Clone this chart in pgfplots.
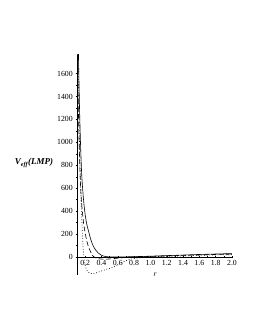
\documentclass[border=0pt]{standalone}
\usepackage{pgfplots}
\pgfplotsset{compat=1.18}
\usepackage{fontspec}
\setmainfont{Liberation Serif}
\begin{document}
\begin{tikzpicture}[x=1pt,y=1pt]
\useasboundingbox[fill=white] (0,0) rectangle (255,330);
\begin{axis}[
  at={(77pt,55pt)}, anchor=south west,
  scale only axis, width=155pt, height=220pt,
  xmin=0.1, xmax=2.0, ymin=-157, ymax=1762,
  axis x line=middle, axis y line=left,
  axis line style={-, line width=0.7pt},
  xtick={0.2,0.4,...,2.0},
  xticklabels={0.2,0.4,0.6,0.8,1.0,1.2,1.4,1.6,1.8,2.0},
  ytick={0,200,...,1600},
  minor x tick num=1, minor y tick num=1,
  tick style={black, line width=0.4pt},
  major tick length=2.5pt, minor tick length=1.5pt,
  tick label style={font=\fontsize{7.8}{9}\selectfont},
  /pgf/number format/assume math mode=true,
  /pgf/number format/1000 sep={},
  xticklabel style={yshift=1pt},
  yticklabel style={xshift=0.5pt},
  clip=true,
]
\addplot[black, line width=0.6pt, smooth] coordinates {
(0.105,2500)(0.11,2150)(0.12,1680)(0.13,1330)(0.14,1060)(0.15,850)(0.16,690)(0.18,500)(0.20,370)(0.22,285)(0.24,230)(0.27,150)(0.30,95)(0.33,60)(0.36,35)(0.40,15)(0.45,4)(0.5,0)(0.6,0)(0.8,3)(1.0,7)(1.2,12)(1.4,17)(1.6,22)(1.8,26)(2.0,30)};
\addplot[black, line width=0.6pt, dash pattern=on 5pt off 2.5pt, smooth] coordinates {
(0.105,1900)(0.11,1600)(0.12,1180)(0.13,900)(0.14,680)(0.15,540)(0.16,440)(0.18,300)(0.2,210)(0.22,140)(0.24,90)(0.27,40)(0.30,5)(0.33,-8)(0.36,-14)(0.40,-18)(0.45,-19)(0.5,-17)(0.55,-14)(0.6,-10)(0.7,-4)(0.8,0)(1.0,5)(1.2,10)(1.4,14)(1.6,18)(1.8,22)(2.0,25)};
\addplot[black, line width=0.7pt, dotted, smooth] coordinates {
(0.11,2000)(0.12,1500)(0.13,1050)(0.14,720)(0.15,490)(0.16,300)(0.17,150)(0.18,30)(0.19,-30)(0.20,-70)(0.22,-115)(0.25,-138)(0.28,-145)(0.31,-143)(0.35,-135)(0.4,-122)(0.46,-108)(0.53,-92)(0.6,-68)(0.66,-45)(0.75,-20)(0.85,-8)(1.0,0)(1.2,5)(1.4,10)(1.6,14)(1.8,18)(2.0,21)};
\end{axis}
\node[font=\fontsize{9}{10}\selectfont\bfseries\itshape] at (34,167) {V\textsubscript{eff}(LMP)};
\node[font=\fontsize{7.5}{8}\selectfont\itshape] at (155,55) {r};
\end{tikzpicture}
\end{document}
